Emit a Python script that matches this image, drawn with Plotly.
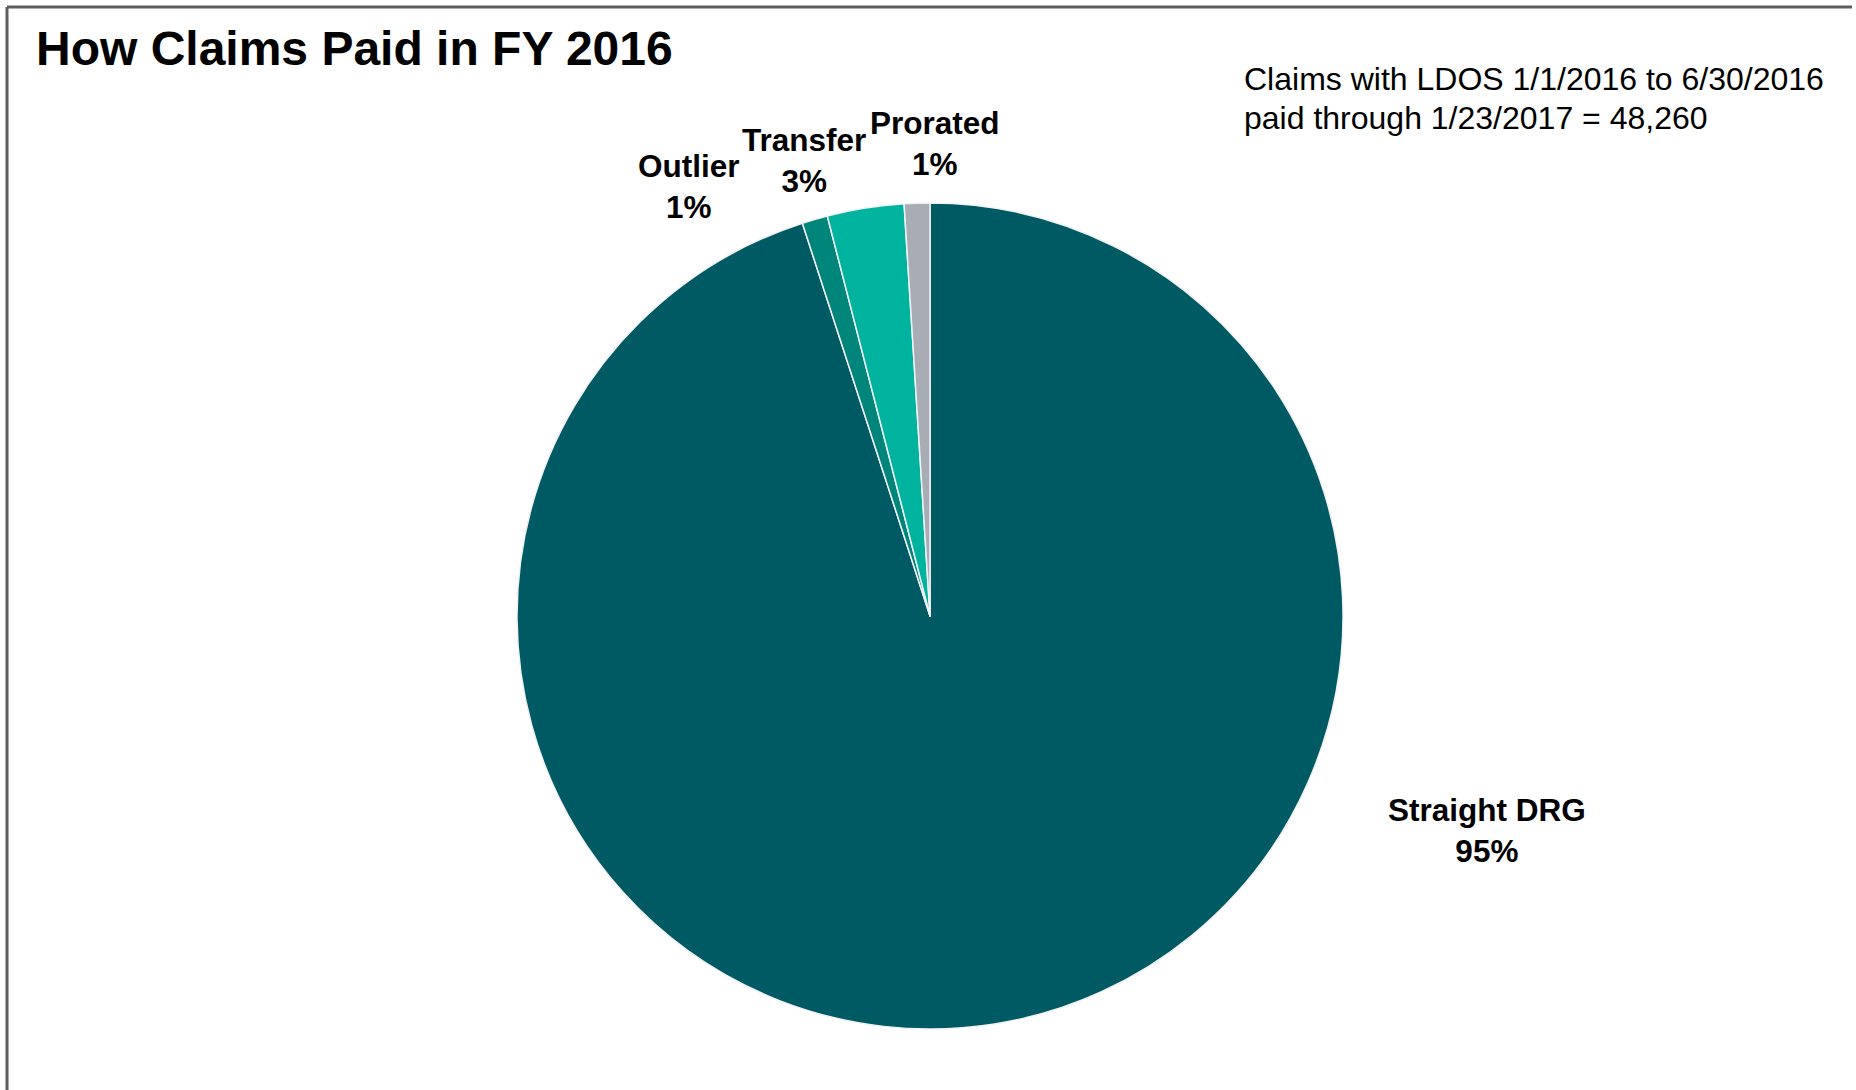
import plotly.graph_objects as go

# Payment method shares (percent of claims)
categories = ["Straight DRG", "Outlier", "Transfer", "Prorated"]
shares = [95, 1, 3, 1]
slice_colors = ["#005A64", "#00857A", "#00B39F", "#A8ACB5"]

title_text = "How Claims Paid in FY 2016"
note_lines = ["Claims with LDOS 1/1/2016 to 6/30/2016",
              "paid through 1/23/2017 = 48,260"]

# label anchor points (paper fractions) for each category
label_xy = [(0.801, 0.2385), (0.371, 0.829), (0.433, 0.853), (0.504, 0.868)]

W, H = 1856, 1090
cx, cy, r = 930, 616, 413

fig = go.Figure(go.Pie(
    labels=categories,
    values=shares,
    sort=False,
    direction="clockwise",
    rotation=0,
    textinfo="none",
    hoverinfo="label+percent",
    marker=dict(colors=slice_colors, line=dict(color="#F2F2F2", width=1.5)),
    domain=dict(x=[(cx - r) / W, (cx + r) / W],
                y=[(H - cy - r) / H, (H - cy + r) / H]),
    showlegend=False,
))

total = sum(shares)
for name, val, (lx, ly) in zip(categories, shares, label_xy):
    fig.add_annotation(
        x=lx, y=ly, xref="paper", yref="paper",
        text=f"<b>{name}<br>{round(100 * val / total)}%</b>",
        showarrow=False, xanchor="center", yanchor="middle",
        font=dict(family="Liberation Sans, Arial", size=31.5, color="#000000"),
    )

fig.add_annotation(
    x=34 / W, y=1 - 48 / H, xref="paper", yref="paper",
    text=f"<b>{title_text}</b>", showarrow=False,
    xanchor="left", yanchor="middle",
    font=dict(family="Liberation Sans, Arial", size=48, color="#000000"),
)

for line, ypx in zip(note_lines, [79, 118]):
    fig.add_annotation(
        x=1242 / W, y=1 - ypx / H, xref="paper", yref="paper",
        text=line, showarrow=False, align="left",
        xanchor="left", yanchor="middle",
        font=dict(family="Liberation Sans, Arial", size=32, color="#000000"),
    )

# frame lines along the top and left edges
fig.add_shape(type="line", xref="paper", yref="paper",
              x0=7 / W, x1=1852 / W, y0=1 - 7 / H, y1=1 - 7 / H,
              line=dict(color="#5E5E5E", width=3))
fig.add_shape(type="line", xref="paper", yref="paper",
              x0=7 / W, x1=7 / W, y0=1 - 7 / H, y1=0,
              line=dict(color="#5E5E5E", width=3))

fig.update_layout(
    width=W, height=H,
    margin=dict(l=0, r=0, t=0, b=0),
    paper_bgcolor="#FFFFFF",
    plot_bgcolor="#FFFFFF",
)

fig.write_html("out.html")
